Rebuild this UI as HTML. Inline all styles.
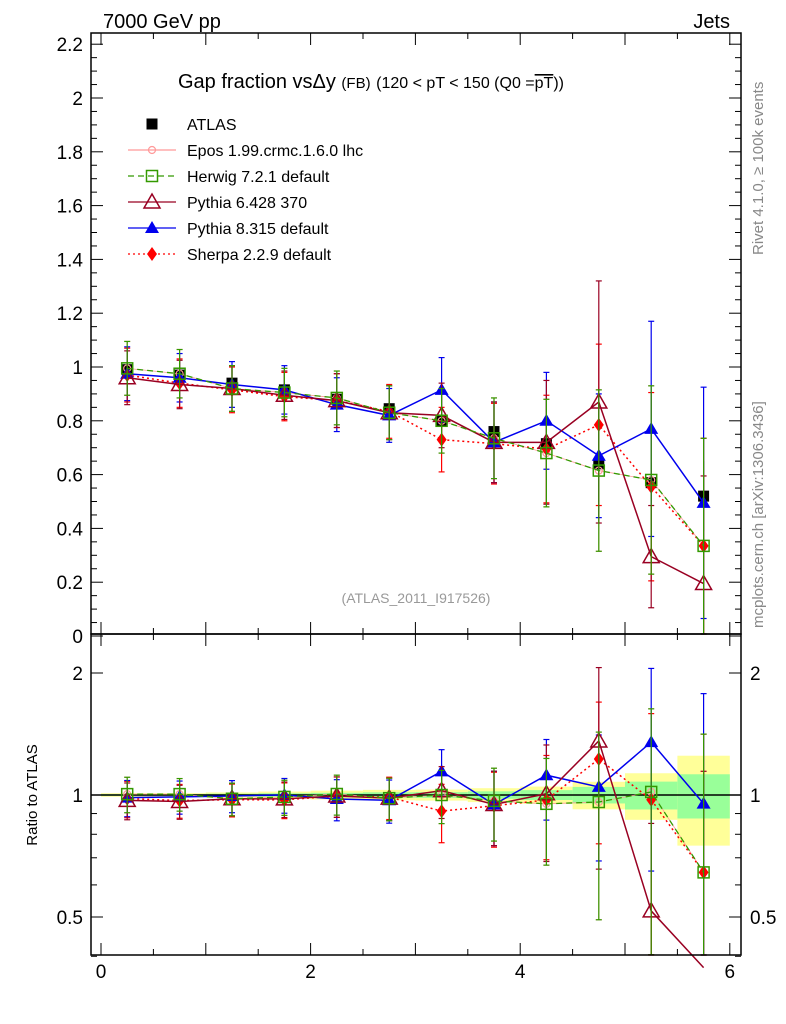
<!DOCTYPE html>
<html><head><meta charset="utf-8"><style>
body{margin:0;background:#fff}
svg{display:block;font-family:"Liberation Sans",sans-serif}
</style></head><body>
<svg id="c" width="786" height="1024" viewBox="0 0 786 1024" xmlns="http://www.w3.org/2000/svg">
<g id="bands"></g>
<g id="grid"></g>
<g id="marks"></g>
<g id="axes"></g>
<text x="103" y="28" font-size="20">7000 GeV pp</text>
<text x="730" y="28" font-size="20" text-anchor="end">Jets</text>
<text x="178" y="88" font-size="20">Gap fraction vsΔy <tspan font-size="15">(FB)</tspan> <tspan font-size="16">(120 &lt; pT &lt; 150 (Q0 =<tspan text-decoration="overline">pT</tspan>))</tspan></text>
<text x="416" y="603" font-size="14" fill="#999" text-anchor="middle">(ATLAS_2011_I917526)</text>
<text transform="translate(763,255) rotate(-90)" font-size="15" fill="#888">Rivet 4.1.0, ≥ 100k events</text>
<text transform="translate(763,628) rotate(-90)" font-size="15" fill="#888">mcplots.cern.ch [arXiv:1306.3436]</text>
<text transform="translate(37,795) rotate(-90)" font-size="15" text-anchor="middle">Ratio to ATLAS</text>
<g id="legend"></g>
</svg>
<script>
const xc=[0.25,0.75,1.25,1.75,2.25,2.75,3.25,3.75,4.25,4.75,5.25,5.75];
const atlas=[0.99,0.97,0.94,0.915,0.88,0.845,0.80,0.76,0.715,0.64,0.57,0.52];
const atlasErr=[0.01,0.01,0.014,0.018,0.022,0.025,0.025,0.03,0.035,0.05,0.075,0.13];
const atlasStat=[0.005,0.005,0.007,0.009,0.011,0.013,0.013,0.016,0.02,0.03,0.045,0.065];
const epos=[0.995,0.975,0.92,0.905,0.885,0.83,0.80,0.735,0.68,0.615,0.58,0.335];
const herwig=[0.995,0.975,0.92,0.905,0.885,0.83,0.80,0.735,0.68,0.615,0.58,0.335];
const py6=[0.96,0.935,0.92,0.895,0.875,0.83,0.82,0.72,0.72,0.87,0.295,0.195];
const py8=[0.975,0.96,0.935,0.915,0.86,0.82,0.915,0.72,0.80,0.67,0.77,0.495];
const sherpa=[0.97,0.94,0.915,0.89,0.875,0.835,0.73,0.715,0.695,0.785,0.555,0.335];
const mcErr=[0.1,0.09,0.085,0.09,0.1,0.1,0.12,0.15,0.2,0.3,0.35,0.4];
const py6Err=[0.1,0.09,0.085,0.09,0.1,0.1,0.12,0.15,0.23,0.45,0.19,0.4];
const py8Err=[0.1,0.09,0.085,0.09,0.1,0.1,0.12,0.15,0.18,0.23,0.4,0.43];
const yTicks=[0,0.2,0.4,0.6,0.8,1,1.2,1.4,1.6,1.8,2,2.2];
const yTickLabels=["0","0.2","0.4","0.6","0.8","1","1.2","1.4","1.6","1.8","2","2.2"];
const xTicks=[0,2,4,6];
const rTicks=[0.5,1,2];

const NS="http://www.w3.org/2000/svg";
const L=91,R=741,T1=33,B1=634,T2=634,B2=955;
const X=v=>101+(v)*104.8;
const Y=v=>636-v*269;
const RY=v=>795-Math.log2(v)*122;
function el(p,tag,a){const e=document.createElementNS(NS,tag);for(const k in a)e.setAttribute(k,a[k]);p.appendChild(e);return e;}
const bands=document.getElementById('bands'),marks=document.getElementById('marks'),axes=document.getElementById('axes'),leg=document.getElementById('legend');

xc.forEach((x,i)=>{
 const r=atlasErr[i]/atlas[i], s=atlasStat[i]/atlas[i];
 let b=el(bands,'rect',{x:X(x-0.25),width:X(0.5)-X(0),y:RY(1+r),height:RY(1-r)-RY(1+r),fill:'#ffff99'});
 
 
 let g=el(bands,'rect',{x:X(x-0.25),width:X(0.5)-X(0),y:RY(1+s),height:RY(1-s)-RY(1+s),fill:'#99ff99'});
 
 
});
let one=el(bands,'line',{x1:L,x2:R,y1:RY(1),y2:RY(1),stroke:'#000','stroke-width':1.5});



function marker(g,type,x,y,col){
 if(type==='sq') return el(g,'rect',{x:x-5.5,y:y-5.5,width:11,height:11,fill:'#000'});
 if(type==='osq') return el(g,'rect',{x:x-5.5,y:y-5.5,width:11,height:11,fill:'none',stroke:col,'stroke-width':1.5});
 if(type==='otri') return el(g,'path',{d:`M${x} ${y-8}L${x+8} ${y+6}L${x-8} ${y+6}Z`,fill:'none',stroke:col,'stroke-width':1.5});
 if(type==='tri') return el(g,'path',{d:`M${x} ${y-7}L${x+7} ${y+5}L${x-7} ${y+5}Z`,fill:col});
 if(type==='dia') return el(g,'path',{d:`M${x} ${y-7}L${x+5} ${y}L${x} ${y+7}L${x-5} ${y}Z`,fill:col});
 if(type==='cross') return el(g,'circle',{cx:x,cy:y,r:3.5,fill:'none',stroke:col,'stroke-width':1.2});
}
function clipY(y,top,bot){return Math.max(top,Math.min(bot,y));}
const series=[
 {name:'herwig',vals:herwig,err:mcErr,col:'#339900',dash:'6,4',m:'osq',w:1.3},
 {name:'pythia6',vals:py6,err:py6Err,col:'#990022',dash:'',m:'otri',w:1.5},
 {name:'pythia8',vals:py8,err:py8Err,col:'#0000ee',dash:'',m:'tri',w:1.5},
 {name:'sherpa',vals:sherpa,err:mcErr,col:'#ff0000',dash:'2,3',m:'dia',w:1.5},
 {name:'epos',vals:epos,err:mcErr,col:'#ff9999',dash:'',m:'cross',w:0.8},
];
function drawAtlas(){
  const g=el(marks,'g',{});
  
  
  xc.forEach((x,i)=>{
   el(g,'line',{x1:X(x),x2:X(x),y1:Y(atlas[i]+atlasErr[i]),y2:Y(atlas[i]-atlasErr[i]),stroke:'#000','stroke-width':1.2});
   const m=marker(g,'sq',X(x),Y(atlas[i]),'#000');
   
   
  });
}
function draw(panel){
 const top=panel?T2:T1,bot=panel?B2:B1;
 const yf=panel?RY:Y;
 if(!panel) drawAtlas();
 series.slice().reverse().forEach(s=>{
  const g=el(marks,'g',{});
  
  
  const v=xc.map((x,i)=>panel?s.vals[i]/atlas[i]:s.vals[i]);
  const e=xc.map((x,i)=>panel?s.err[i]/atlas[i]:s.err[i]);
  const pts=xc.map((x,i)=>[X(x),yf(v[i])]);
  el(g,'polyline',{points:pts.map(p=>p.join(',')).join(' '),fill:'none',stroke:s.col,'stroke-width':s.w,'stroke-dasharray':s.dash});
  xc.forEach((x,i)=>{
   const lo=Math.max(v[i]-e[i],panel?0.3:-0.1);
   const y1=clipY(yf(v[i]+e[i]),top,bot),y2=clipY(yf(lo),top,bot);
   el(g,'line',{x1:X(x),x2:X(x),y1:y1,y2:y2,stroke:s.col,'stroke-width':1.2});
   el(g,'line',{x1:X(x)-3,x2:X(x)+3,y1:y1,y2:y1,stroke:s.col,'stroke-width':1.2});
   el(g,'line',{x1:X(x)-3,x2:X(x)+3,y1:y2,y2:y2,stroke:s.col,'stroke-width':1.2});
   const yy=yf(v[i]);
   if(yy>top&&yy<bot){const m=marker(g,s.m,X(x),yy,s.col);
    
    }
  });
 });
}
draw(0);draw(1);

[[T1,B1],[T2,B2]].forEach(([t,b])=>{
 const f=el(axes,'rect',{x:L,y:t,width:R-L,height:b-t,fill:'none',stroke:'#000','stroke-width':1.5});
 
 
 for(let v=0;v<=6.01;v+=0.5){
  const len=Math.abs(v%1)<1e-6?12:6;
  el(axes,'line',{x1:X(v),x2:X(v),y1:b,y2:b-len,stroke:'#000'});
  el(axes,'line',{x1:X(v),x2:X(v),y1:t,y2:t+len,stroke:'#000'});
 }
});
for(let v=0;v<=2.2001;v+=0.05){
 const maj=Math.abs(v/0.2-Math.round(v/0.2))<1e-6;
 const len=maj?12:6;
 el(axes,'line',{x1:L,x2:L+len,y1:Y(v),y2:Y(v),stroke:'#000'});
 el(axes,'line',{x1:R,x2:R-len,y1:Y(v),y2:Y(v),stroke:'#000'});
}
yTicks.forEach((v,i)=>{
 const t=el(axes,'text',{x:83,y:Y(v)+7,'font-size':19,'text-anchor':'end'});
 t.textContent=yTickLabels[i];
 
 
});
[0.4,0.5,0.6,0.7,0.8,0.9,1,2].forEach(v=>{
 const len=rTicks.includes(v)?12:6;
 el(axes,'line',{x1:L,x2:L+len,y1:RY(v),y2:RY(v),stroke:'#000'});
 el(axes,'line',{x1:R,x2:R-len,y1:RY(v),y2:RY(v),stroke:'#000'});
});
rTicks.forEach(v=>{
 ['left','right'].forEach(side=>{
  const t=el(axes,'text',{x:side==='left'?83:750,y:RY(v)+7,'font-size':19,'text-anchor':side==='left'?'end':'start'});
  t.textContent=String(v);
  
  
 });
});
xTicks.forEach(v=>{
 const t=el(axes,'text',{x:X(v),y:978,'font-size':19,'text-anchor':'middle'});
 t.textContent=String(v);
 
 
});

const legItems=[['ATLAS','sq','#000',''],['Epos 1.99.crmc.1.6.0 lhc','cross','#ff9999',''],['Herwig 7.2.1 default','osq','#339900','6,4'],['Pythia 6.428 370','otri','#990022',''],['Pythia 8.315 default','tri','#0000ee',''],['Sherpa 2.2.9 default','dia','#ff0000','2,3']];
legItems.forEach((it,i)=>{
 const y=124+i*26;
 const g=el(leg,'g',{});
 
 
 if(i>0) el(g,'line',{x1:128,x2:176,y1:y,y2:y,stroke:it[2],'stroke-width':1.3,'stroke-dasharray':it[3]});
 marker(g,it[1],152,y,it[2]);
 const t=el(g,'text',{x:187,y:y+6,'font-size':16});
 t.textContent=it[0];
});
</script>
</body></html>
